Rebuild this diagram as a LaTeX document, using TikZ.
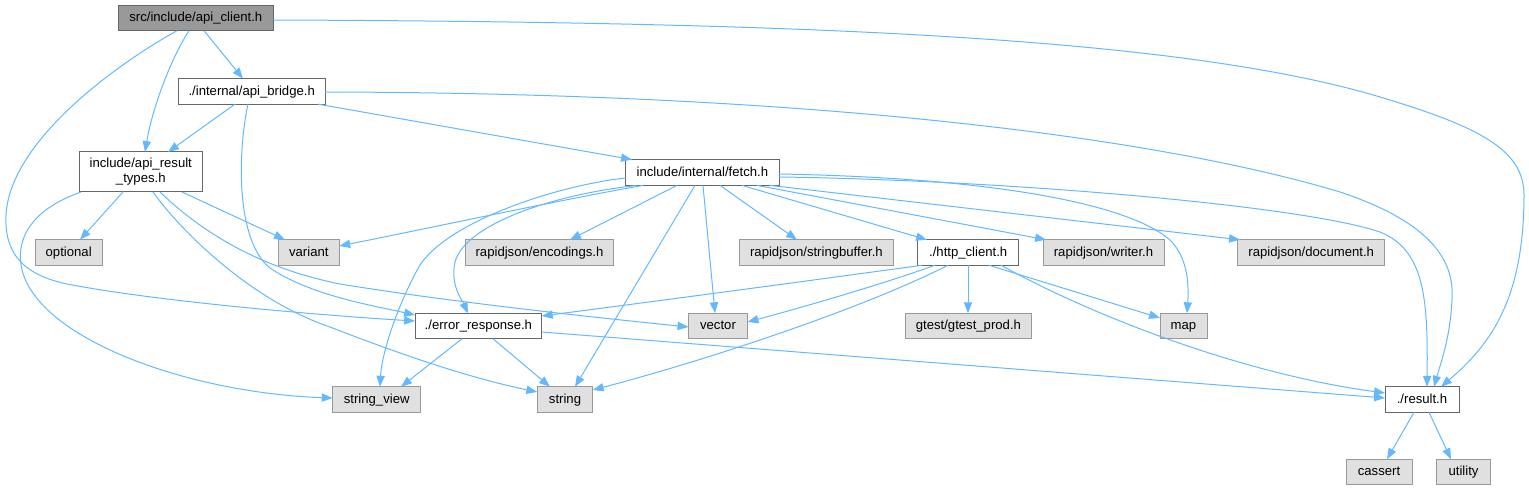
\documentclass[tikz,border=0pt]{standalone}
\usepackage{fontspec}
\setmainfont{Liberation Sans}
\usetikzlibrary{arrows.meta}
\definecolor{edgec}{HTML}{63B8FF}
\definecolor{gfill}{HTML}{E0E0E0}
\definecolor{gline}{HTML}{999999}
\definecolor{wline}{HTML}{666666}
\definecolor{rfill}{HTML}{999999}
\newcommand\nodefont{\fontsize{9.85}{11.25}\selectfont}
\begin{document}
\begin{tikzpicture}[x=0.75pt,y=-0.75pt,
  nd/.style={draw, rectangle, inner sep=0pt, outer sep=0pt, line width=0.75pt,
    minimum height=25.5*0.75pt, text height=7.3pt, text depth=1.3pt, font=\nodefont},
  graynd/.style={nd, fill=gfill, draw=gline},
  whitend/.style={nd, fill=white, draw=wline},
  rootnd/.style={nd, fill=rfill, draw=wline},
  bw/.style={minimum width=#1*0.75pt},
  edge/.style={draw=edgec, line width=0.75pt, -{Triangle[length=8.2pt,width=6.2pt]}, fill=none}
]
\useasboundingbox (0,0) rectangle (1529,491);
% nodes
\node[rootnd, bw=155] (A) at (195.8,18) {src/include/api\_client.h};
\node[whitend, bw=146.7] (B) at (251.7,91.4) {./internal/api\_bridge.h};
\node[nd, fill=white, draw=wline, bw=123, minimum height=40*0.75pt, text height=, text depth=, align=center] (R) at (140.8,172) {include/api\_result\\\_types.h};
\node[whitend, bw=153.3, minimum height=25.8*0.75pt] (F) at (702.4,172.5) {include/internal/fetch.h};
\node[graynd, bw=66.7] (O) at (68.7,252.5) {optional};
\node[graynd, bw=61] (V) at (308.8,252.5) {variant};
\node[graynd, bw=148.3] (Enc) at (539.5,252.5) {rapidjson/encodings.h};
\node[graynd, bw=153.2] (SB) at (816.4,252.5) {rapidjson/stringbuffer.h};
\node[whitend, bw=101.5] (H) at (968.2,252.5) {./http\_client.h};
\node[graynd, bw=121] (W) at (1103.5,252.5) {rapidjson/writer.h};
\node[graynd, bw=147] (D) at (1311.2,252.5) {rapidjson/document.h};
\node[whitend, bw=126.7] (E) at (478.4,326) {./error\_response.h};
\node[graynd, bw=59] (Vec) at (718,326) {vector};
\node[graynd, bw=126.7] (G) at (968.4,326) {gtest/gtest\_prod.h};
\node[graynd, bw=47] (M) at (1183.5,326) {map};
\node[graynd, bw=88] (SV) at (376.7,399.5) {string\_view};
\node[graynd, bw=55.4] (St) at (565,399.5) {string};
\node[whitend, bw=74] (X) at (1422,399.5) {./result.h};
\node[graynd, bw=66] (Ca) at (1379,472) {cassert};
\node[graynd, bw=53.6] (U) at (1463.5,472) {utility};
% edges from api_client
\draw[edge] (A.south -| 204,0) -- (B.north -| 243,0);
\draw[edge] (A.south -| 189,0) .. controls (170,60) and (152,110) .. (R.north -| 145,0);
\draw[edge] (A.south -| 177,0) .. controls (120,62) and (10,140) .. (6,215) .. controls (4,255) and (25,275) .. (67,284) .. controls (160,302) and (330,316) .. (E.west |- 0,321);
\draw[edge] (A.east |- 0,20) .. controls (800,22) and (1180,37) .. (1380,97) .. controls (1480,127) and (1524,150) .. (1524,195) .. controls (1524,300) and (1490,345) .. (X.north -| 1441,0);
% edges from api_bridge
\draw[edge] (B.south -| 235,0) -- (R.north -| 168,0);
\draw[edge] (B.south -| 248,0) .. controls (238,150) and (235,240) .. (270,268) .. controls (310,295) and (370,305) .. (E.west |- 0,315);
\draw[edge] (B.south -| 318,0) -- (F.north -| 632,0);
\draw[edge] (B.east |- 0,92) .. controls (800,93) and (1150,135) .. (1340,192) .. controls (1430,222) and (1455,260) .. (1452,300) .. controls (1450,340) and (1440,365) .. (X.north -| 1434,0);
% edges from api_result_types
\draw[edge] (R.south -| 123,0) -- (O.north -| 80,0);
\draw[edge] (R.south -| 182,0) -- (V.north -| 285,0);
\draw[edge] (R.south -| 81,0) .. controls (30,210) and (15,240) .. (22,270) .. controls (40,340) and (190,393) .. (SV.west |- 0,398);
\draw[edge] (R.south -| 153,0) .. controls (180,230) and (250,300) .. (330,327) .. controls (420,362) and (480,380) .. (St.west |- 0,392);
\draw[edge] (R.south -| 160,0) .. controls (210,240) and (270,270) .. (340,284) .. controls (450,302) and (600,318) .. (Vec.west |- 0,327);
% edges from fetch
\draw[edge] (F.west |- 0,178) .. controls (560,185) and (450,220) .. (420,265) .. controls (400,300) and (382,350) .. (SV.north -| 380,0);
\draw[edge] (F.south -| 637,0) .. controls (550,195) and (465,225) .. (455,262) .. controls (450,285) and (462,300) .. (E.north -| 468,0);
\draw[edge] (F.south -| 643,0) .. controls (560,200) and (420,230) .. (V.east |- 0,246);
\draw[edge] (F.south -| 677,0) -- (Enc.north -| 570,0);
\draw[edge] (F.south -| 695,0) -- (St.north -| 575,0);
\draw[edge] (F.south -| 703,0) -- (Vec.north -| 715,0);
\draw[edge] (F.south -| 720,0) -- (SB.north -| 797,0);
\draw[edge] (F.south -| 742,0) -- (H.north -| 927,0);
\draw[edge] (F.south -| 757,0) -- (W.north -| 1046,0);
\draw[edge] (F.south -| 770,0) -- (D.north -| 1240,0);
\draw[edge] (F.east |- 0,174) .. controls (1000,178) and (1130,205) .. (1170,240) .. controls (1188,258) and (1189,285) .. (M.north -| 1187,0);
\draw[edge] (F.east |- 0,177) .. controls (1000,180) and (1300,205) .. (1380,232) .. controls (1425,250) and (1428,300) .. (X.north -| 1427,0);
% edges from http_client
\draw[edge] (H.south -| 922,0) .. controls (800,282) and (650,302) .. (E.east |- 0,316);
\draw[edge] (H.south -| 935,0) .. controls (880,285) and (800,308) .. (Vec.east |- 0,322);
\draw[edge] (H.south -| 948,0) .. controls (860,310) and (700,362) .. (St.east |- 0,390);
\draw[edge] (H.south -| 968,0) -- (G.north -| 968,0);
\draw[edge] (H.south -| 989,0) -- (M.west |- 0,318);
\draw[edge] (H.south -| 1001,0) .. controls (1100,320) and (1250,375) .. (X.west |- 0,393);
% edges from error_response
\draw[edge] (E.south -| 462,0) -- (SV.north -| 401,0);
\draw[edge] (E.south -| 493,0) -- (St.north -| 550,0);
\draw[edge] (E.east |- 0,332) -- (X.west |- 0,398);
% edges from result
\draw[edge] (X.south -| 1414,0) -- (Ca.north -| 1387,0);
\draw[edge] (X.south -| 1429,0) -- (U.north -| 1451,0);
\end{tikzpicture}
\end{document}
